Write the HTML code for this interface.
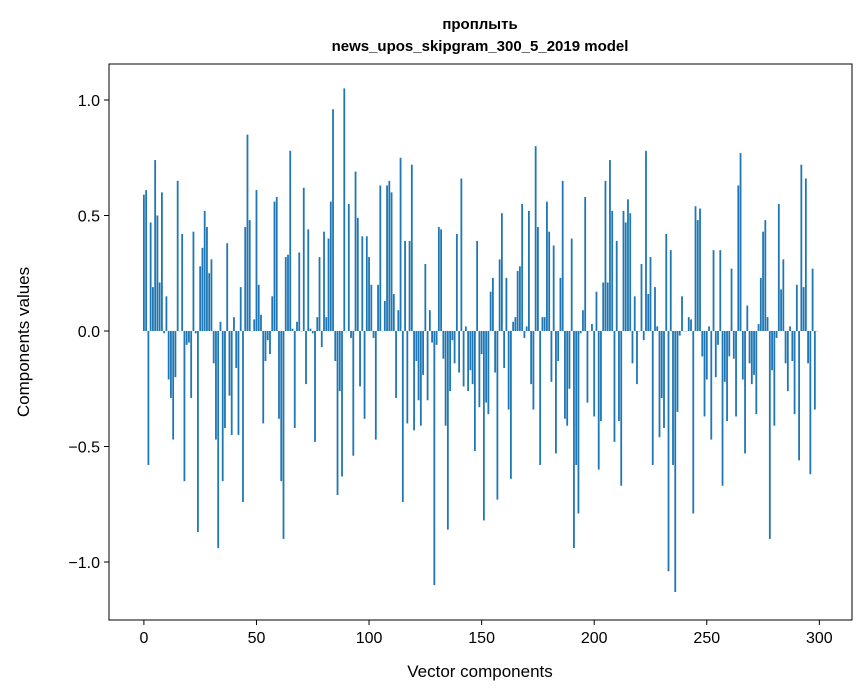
<!DOCTYPE html>
<html><head><meta charset="utf-8"><style>
body{margin:0;background:#fff;}
svg{display:block;font-family:"Liberation Sans","DejaVu Sans",sans-serif;}
</style></head><body>
<svg id="chart" width="867" height="696" viewBox="0 0 867 696" xmlns="http://www.w3.org/2000/svg">
<rect x="0" y="0" width="867" height="696" fill="#fff"/>
<text x="480" y="29" text-anchor="middle" font-size="15" font-weight="bold">проплыть</text>
<text x="480" y="51" text-anchor="middle" font-size="15" font-weight="bold">news_upos_skipgram_300_5_2019 model</text>
<g id="bars"></g>
<g id="axes"></g>
<rect x="109" y="64" width="743" height="556" fill="none" stroke="#000" stroke-width="1"/>
<text x="480" y="677" text-anchor="middle" font-size="17">Vector components</text>
<text transform="translate(29,342) rotate(-90)" text-anchor="middle" font-size="17">Components values</text>
</svg>
<script>
const values = [0.59,0.61,-0.58,0.47,0.19,0.74,0.50,0.21,0.60,-0.01,0.15,-0.21,-0.29,-0.47,-0.20,0.65,0,0.42,-0.65,-0.06,-0.05,-0.29,0.43,-0.01,-0.87,0.28,0.36,0.52,0.45,0.25,0.31,-0.14,-0.47,-0.94,0.04,-0.65,-0.42,0.38,-0.28,-0.45,0.06,-0.16,-0.45,0.19,-0.74,0.45,0.85,0.48,0,0.05,
0.61,0.20,0.07,-0.40,-0.13,-0.04,-0.10,0.15,0.56,0.58,-0.38,-0.65,-0.90,0.32,0.33,0.78,0.01,-0.42,0.04,0.34,0.00,0.62,-0.23,0.44,0.01,-0.01,-0.48,0.06,0.32,-0.07,0.43,0.06,0.40,0.56,0.96,-0.13,-0.71,-0.26,-0.63,1.05,0,0.55,-0.03,-0.54,0.69,0.49,-0.24,0.41,-0.38,0.41,
0.32,0.20,-0.03,-0.47,0.20,0.63,0,0.13,0.63,0.65,0.60,0.16,-0.29,0.09,0.75,-0.74,0.39,-0.40,0.39,0.72,-0.43,-0.13,-0.30,-0.41,-0.19,0.29,-0.30,0.09,-0.05,-1.10,-0.06,0.45,0.44,-0.12,-0.41,-0.86,-0.26,-0.04,-0.14,0.42,-0.18,0.66,-0.24,0.02,-0.26,-0.17,-0.23,-0.52,0.39,-0.33,
-0.10,-0.82,-0.31,-0.36,0.17,0.23,-0.18,-0.73,0.31,0.51,-0.16,0.23,-0.34,-0.64,0.04,0.06,0.26,0.28,0.55,-0.03,0.02,0.52,-0.23,-0.34,0.80,0.45,-0.58,0.06,0.06,0.56,0.43,-0.22,0.37,-0.53,-0.13,0.23,0.65,-0.38,-0.41,-0.25,0.40,-0.94,-0.58,-0.79,-0.01,0.09,0.58,-0.31,0,0.03,
-0.37,0.17,-0.60,-0.39,0.21,0.65,0.21,0.74,0.52,-0.48,0.39,-0.39,-0.67,0.52,0.47,0.57,0.51,-0.14,0.15,-0.23,0,0.29,-0.04,0.78,0.16,0.32,-0.58,0.19,0.02,-0.46,-0.29,-0.42,0.42,-1.04,0.35,-0.58,-1.13,-0.35,-0.02,0.15,0,0,0.06,0.05,-0.79,0.54,0.48,0.53,-0.11,-0.37,
-0.21,0.02,-0.47,0.35,-0.20,-0.06,0.35,-0.67,-0.22,-0.39,-0.11,0.27,-0.12,-0.37,0.63,0.77,-0.21,-0.53,0.11,-0.14,-0.23,-0.19,-0.36,0.03,0.23,0.43,0.48,0.06,-0.90,-0.17,-0.41,-0.03,0.55,0.18,0.31,-0.14,-0.26,0.02,-0.13,-0.36,0.20,-0.56,0.72,0.19,0.66,-0.14,-0.62,0.27,-0.34,0.00];
const xTicks = [0,50,100,150,200,250,300];
const yTicks = [-1.0,-0.5,0.0,0.5,1.0];
const yTickLabels = ["\u22121.0","\u22120.5","0.0","0.5","1.0"];

const NS="http://www.w3.org/2000/svg";
const plotL=109, plotR=852, plotT=64, plotB=620;
const xMin=-15.5, xMax=314.5, yMin=-1.2511, yMax=1.1558;
function xs(v){return plotL+(v-xMin)/(xMax-xMin)*(plotR-plotL);}
function ys(v){return plotB-(v-yMin)/(yMax-yMin)*(plotB-plotT);}
const barsG=document.getElementById('bars');
const axesG=document.getElementById('axes');
values.forEach((v,i)=>{
  const r=document.createElementNS(NS,'rect');
  const x0=xs(i-0.4), x1=xs(i+0.4);
  const y0=ys(Math.max(v,0)), y1=ys(Math.min(v,0));
  r.setAttribute('x',x0);r.setAttribute('width',x1-x0);
  r.setAttribute('y',y0);r.setAttribute('height',Math.max(y1-y0,0.3));
  r.setAttribute('fill','#1f77b4');
  
  
  barsG.appendChild(r);
});
xTicks.forEach(t=>{
  const l=document.createElementNS(NS,'line');
  l.setAttribute('x1',xs(t));l.setAttribute('x2',xs(t));
  l.setAttribute('y1',plotB);l.setAttribute('y2',plotB+5);
  l.setAttribute('stroke','#000');
  
  
  axesG.appendChild(l);
  const tx=document.createElementNS(NS,'text');
  tx.setAttribute('x',xs(t));tx.setAttribute('y',plotB+23);
  tx.setAttribute('text-anchor','middle');tx.setAttribute('font-size','16');
  tx.textContent=String(t);
  
  
  axesG.appendChild(tx);
});
yTicks.forEach((t,i)=>{
  const l=document.createElementNS(NS,'line');
  l.setAttribute('x1',plotL-5);l.setAttribute('x2',plotL);
  l.setAttribute('y1',ys(t));l.setAttribute('y2',ys(t));
  l.setAttribute('stroke','#000');
  
  
  axesG.appendChild(l);
  const tx=document.createElementNS(NS,'text');
  tx.setAttribute('x',plotL-9);tx.setAttribute('y',ys(t)+6);
  tx.setAttribute('text-anchor','end');tx.setAttribute('font-size','16');
  tx.textContent=yTickLabels[i];
  
  
  axesG.appendChild(tx);
});
</script>
</body></html>
